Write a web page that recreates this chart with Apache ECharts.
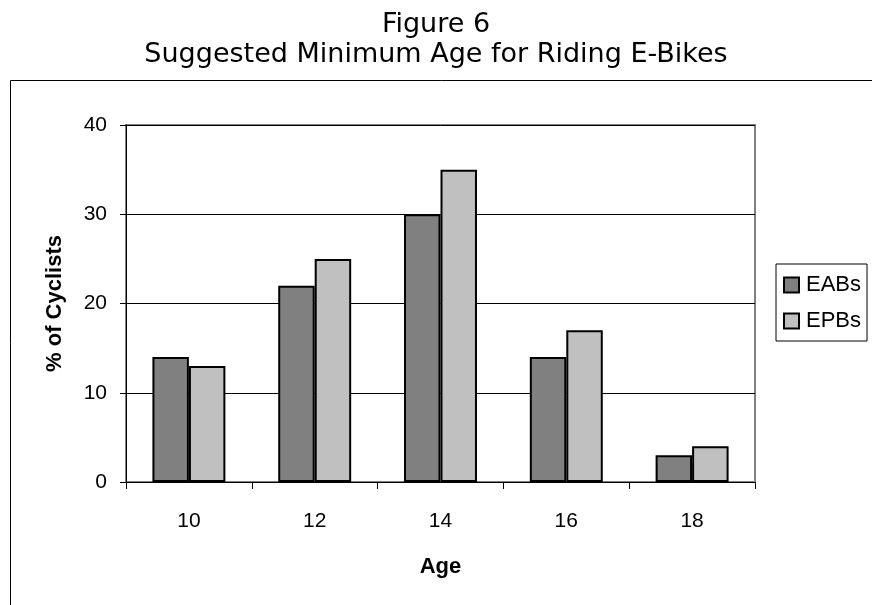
<!DOCTYPE html>
<html>
<head>
<meta charset="utf-8">
<script src="https://cdn.jsdelivr.net/npm/echarts@6/dist/echarts.min.js"></script>
<style>
  html, body { margin: 0; padding: 0; background: #fff; }
  #chart { width: 872px; height: 605px; }
</style>
</head>
<body>
<div id="chart"></div>
<script>
// values
var ages = ['10', '12', '14', '16', '18'];
var eabs = [14, 22, 30, 14, 3];
var epbs = [13, 25, 35, 17, 4];
var yTicks = { min: 0, max: 40, interval: 10 };

var chart = echarts.init(document.getElementById('chart'));

var option = {
  animation: false,
  backgroundColor: '#fff',
  title: {
    text: 'Figure 6\nSuggested Minimum Age for Riding E-Bikes',
    left: 'center',
    top: 5,
    textStyle: {
      fontFamily: 'DejaVu Sans',
      fontWeight: 'normal',
      fontSize: 27,
      lineHeight: 30,
      color: '#000'
    }
  },
  graphic: [{
    type: 'rect',
    shape: { x: 10.5, y: 80.5, width: 900, height: 600 },
    style: { fill: 'none', stroke: '#000', lineWidth: 1 },
    silent: true,
    z: -1
  }],
  legend: {
    orient: 'vertical',
    left: 776,
    top: 264,
    itemWidth: 15,
    itemHeight: 15,
    itemGap: 14,
    padding: [10, 6, 9, 7],
    borderColor: '#000',
    borderWidth: 1,
    icon: 'rect',
    textStyle: { fontFamily: 'Liberation Sans', fontSize: 22, color: '#000', padding: [0, 0, 0, 2] },
    data: ['EABs', 'EPBs']
  },
  grid: {
    left: 126,
    right: 117,
    top: 125,
    bottom: 123,
    show: true,
    borderColor: '#808080',
    borderWidth: 2
  },
  xAxis: {
    type: 'category',
    data: ages,
    name: 'Age',
    nameLocation: 'middle',
    nameGap: 74,
    nameTextStyle: { fontFamily: 'Liberation Sans', fontSize: 22, fontWeight: 'bold', color: '#000' },
    axisLine: { lineStyle: { color: '#000', width: 1 } },
    axisTick: { show: true, length: 7, lineStyle: { color: '#000' } },
    axisLabel: { fontFamily: 'Liberation Sans', fontSize: 21, color: '#000', margin: 29 }
  },
  yAxis: {
    type: 'value',
    min: yTicks.min,
    max: yTicks.max,
    interval: yTicks.interval,
    name: '% of Cyclists',
    nameLocation: 'middle',
    nameGap: 60,
    nameTextStyle: { fontFamily: 'Liberation Sans', fontSize: 22, fontWeight: 'bold', color: '#000' },
    axisLine: { show: true, lineStyle: { color: '#000', width: 1 } },
    axisTick: { show: true, length: 6, lineStyle: { color: '#000' } },
    axisLabel: { fontFamily: 'Liberation Sans', fontSize: 21, color: '#000', margin: 19 },
    splitLine: { lineStyle: { color: '#000', width: 1 } }
  },
  series: [{
    name: 'EABs',
    type: 'bar',
    data: eabs,
    barGap: '0%',
    barCategoryGap: '42%',
    itemStyle: { color: '#808080', borderColor: '#000', borderWidth: 2 }
  }, {
    name: 'EPBs',
    type: 'bar',
    data: epbs,
    barGap: '0%',
    barCategoryGap: '42%',
    itemStyle: { color: '#c0c0c0', borderColor: '#000', borderWidth: 2 }
  }]
};

chart.setOption(option);
</script>
</body>
</html>
